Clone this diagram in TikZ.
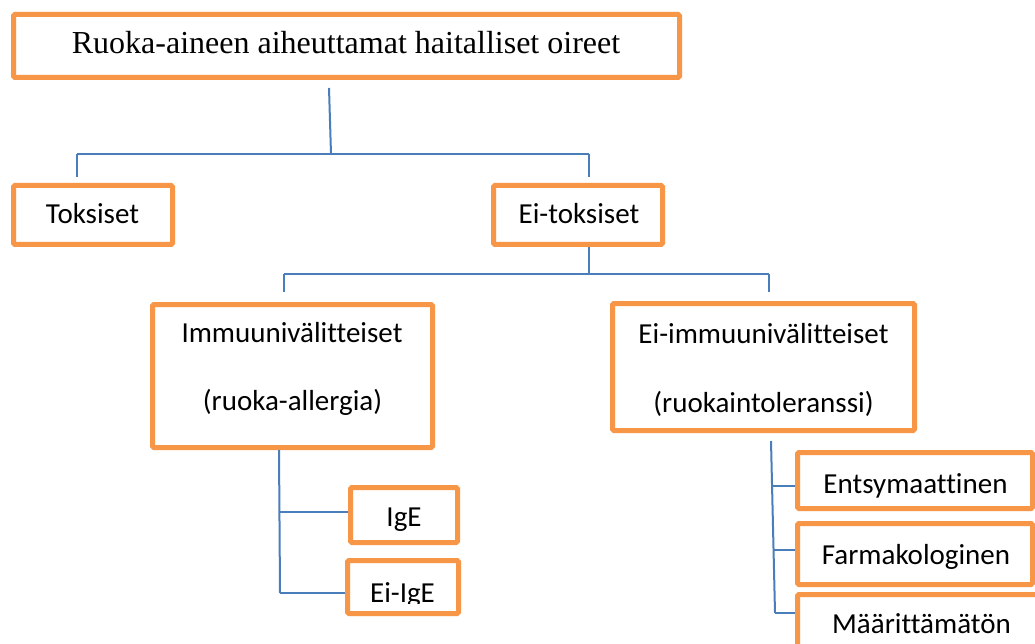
\documentclass[tikz,border=0pt]{standalone}
\usepackage{fontspec}
\setmainfont{Liberation Serif}
\newfontfamily\calib[Ligatures={NoCommon,NoRare,NoContextual}]{Carlito}
\definecolor{boxorange}{HTML}{F79646}
\definecolor{linkblue}{HTML}{4A7EBB}
\begin{document}
\begin{tikzpicture}[x=1pt,y=-1pt,
  box/.style={draw=boxorange, line width=5pt, fill=white, rectangle, rounded corners=1.5pt, inner sep=0pt},
  conn/.style={draw=linkblue, line width=2pt},
  sertext/.style={inner sep=0pt, anchor=base, font=\fontsize{32}{38}\selectfont},
  santext/.style={inner sep=0pt, anchor=base, font=\calib\fontsize{29}{35}\selectfont}]
\useasboundingbox (0,0) rectangle (1035,644);
\clip (0,0) rectangle (1035,644);
\fill[white] (0,0) rectangle (1035,644);

% boxes
\node[box, minimum width=666pt, minimum height=63pt] (top) at (346.5,46) {};
\node[box, minimum width=159pt, minimum height=59pt] (tok) at (93,215) {};
\node[box, minimum width=169pt, minimum height=59pt] (eitok) at (578,215) {};
\node[box, minimum width=280pt, minimum height=143pt] (imm) at (292.5,376) {};
\node[box, minimum width=302pt, minimum height=127pt] (eiimm) at (763.5,367) {};
\node[box, minimum width=107pt, minimum height=55pt] (ige) at (404,515) {};
\node[box, minimum width=111pt, minimum height=53pt] (eiige) at (403,587) {};
\node[box, minimum width=235pt, minimum height=56pt] (ents) at (915,480.5) {};
\node[box, minimum width=235pt, minimum height=61pt] (farm) at (915,554) {};
\node[box, minimum width=262.5pt, minimum height=85.5pt] (maar) at (928.75,637.25) {};

% texts
\node[sertext] (ttop) at (346,54) {Ruoka-aineen aiheuttamat haitalliset oireet};
\node[santext] (ttok) at (92.5,224) {Toksiset};
\node[santext] (teitok) at (579,224) {Ei-toksiset};
\node[santext] (timm1) at (292,342) {Immuunivälitteiset};
\node[santext] (timm2) at (292.5,410) {(ruoka-allergia)};
\node[santext] (teiimm1) at (763.5,343) {Ei-immuunivälitteiset};
\node[santext] (teiimm2) at (763.5,412) {(ruokaintoleranssi)};
\node[santext] (tige) at (404,526) {IgE};
\begin{scope}
  \clip (345,558) rectangle (461,603);
  \node[santext] (teiige) at (402.5,602) {Ei-IgE};
\end{scope}
\node[santext] (tents) at (915.5,493) {Entsymaattinen};
\node[santext] (tfarm) at (916,564) {Farmakologinen};
\node[santext] (tmaar) at (921.5,633) {Määrittämätön};

% connector coordinates
\coordinate (a0) at (329,88);
\coordinate (a1) at (331,154);
\coordinate (aL) at (77,154);
\coordinate (aR) at (589,154);
\coordinate (aLd) at (77,177);
\coordinate (aRd) at (589,177);
\coordinate (b0) at (589,247);
\coordinate (b1) at (589,274);
\coordinate (bL) at (284,274);
\coordinate (bR) at (769,274);
\coordinate (bLd) at (284,292);
\coordinate (bRd) at (769,292);
\coordinate (c0) at (279,450);
\coordinate (c1) at (280,512);
\coordinate (c2) at (280,593);
\coordinate (d0) at (771,441);
\coordinate (d1) at (772.3,486);
\coordinate (d2) at (773.6,550);
\coordinate (d3) at (775,613);

% connectors
\draw[conn] (a0) -- (a1);
\draw[conn] (aL) -- (aR);
\draw[conn] (aL) -- (aLd);
\draw[conn] (aR) -- (aRd);
\draw[conn] (b0) -- (b1);
\draw[conn] (bL) -- (bR);
\draw[conn] (bL) -- (bLd);
\draw[conn] (bR) -- (bRd);
\draw[conn] (c0) -- (c2);
\draw[conn] (c1) -- (ige.west |- c1);
\draw[conn] (c2) -- (eiige.west |- c2);
\draw[conn] (d0) -- (d3);
\draw[conn] (d1) -- (ents.west |- d1);
\draw[conn] (d2) -- (farm.west |- d2);
\draw[conn] (d3) -- (maar.west |- d3);
\end{tikzpicture}
\end{document}
